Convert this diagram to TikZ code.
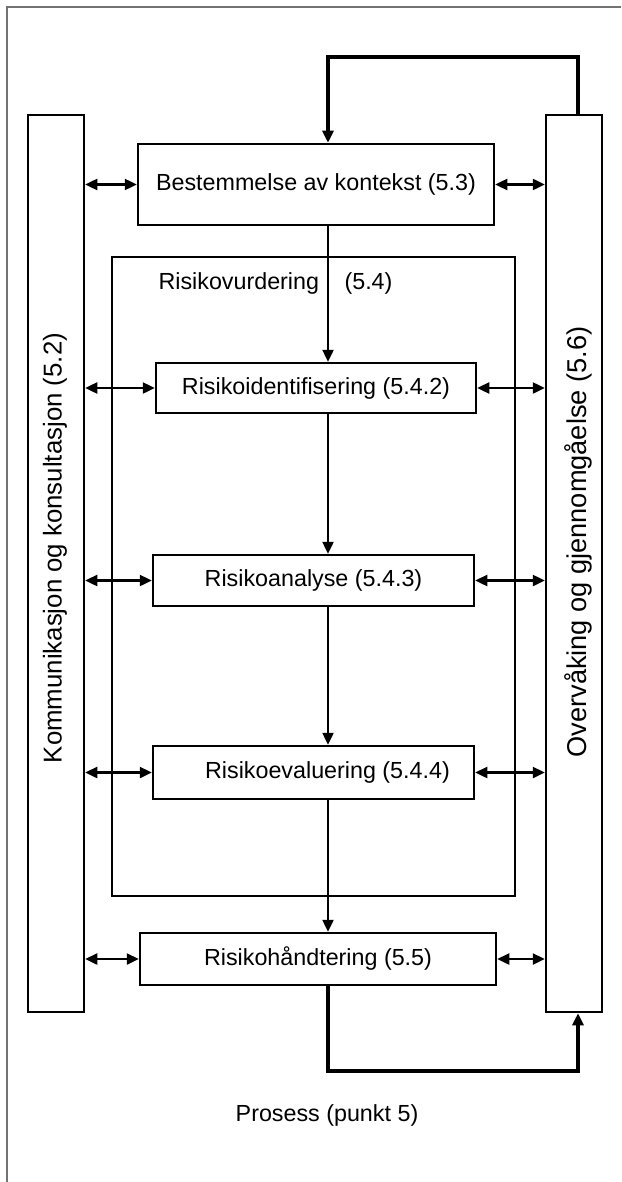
\documentclass[tikz,border=0pt]{standalone}
\usepackage{fontspec}
\setmainfont{Liberation Sans}
\usetikzlibrary{arrows.meta}
\begin{document}
\begin{tikzpicture}[x=1pt, y=-1pt,
  txt/.style={font=\fontsize{23.3}{28}\selectfont, text=black},
  stepbox/.style={draw, line width=2.5pt, inner sep=0pt, txt},
  sidebox/.style={draw, line width=2.5pt, inner sep=0pt, minimum width=56pt, minimum height=897pt},
  tip/.style={Triangle[length=12pt, width=11pt]},
  flow/.style={line width=2.4pt, -{Triangle[length=12pt, width=11pt]}},
  both/.style={line width=2.4pt, {Triangle[length=12pt, width=11pt]}-{Triangle[length=12pt, width=11pt]}},
  loop/.style={line width=3.6pt},
]
\useasboundingbox (0,0) rectangle (621,1182);
% page frame
\draw[black!55, line width=1.4pt] (7,1182) -- (7,7) -- (621,7);

% side columns
\node[sidebox] (kom) at (56,563.5) {};
\node[txt, rotate=90, font=\fontsize{25.8}{30}\selectfont] (komtxt) at (55,548) {Kommunikasjon og konsultasjon (5.2)};
\node[sidebox] (ovr) at (574,563.5) {};
\node[txt, rotate=90, font=\fontsize{27.2}{30}\selectfont] (ovrtxt) at (578,542) {Overvåking og gjennomgåelse (5.6)};

% risk assessment frame
\draw[line width=2.5pt] (112,257) rectangle (515,896);
\node[txt, anchor=west] (rv) at (155,283) {Risikovurdering};
\node[txt, anchor=west] (rvnum) at (341,283) {(5.4)};

% process steps
\node[stepbox, minimum width=356pt, minimum height=81pt] (ctx) at (316,184.5) {Bestemmelse av kontekst (5.3)};
\node[stepbox, minimum width=320pt, minimum height=50pt] (ident) at (316,388) {Risikoidentifisering (5.4.2)};
\node[stepbox, minimum width=321pt, minimum height=51pt] (anal) at (313.5,580.5) {Risikoanalyse (5.4.3)};
\node[stepbox, minimum width=321pt, minimum height=53pt] (eval) at (313.5,772.5) {\hspace*{28pt}Risikoevaluering (5.4.4)};
\node[stepbox, minimum width=356pt, minimum height=52pt] (treat) at (318,959) {Risikohåndtering (5.5)};

\node[txt] (proc) at (327,1115) {Prosess (punkt 5)};

% loop coordinates
\coordinate (topL) at (328,57);
\coordinate (topR) at (578,57);
\coordinate (botL) at (328,1071);
\coordinate (botR) at (578,1071);

% main flow down the spine
\draw[flow] (ctx.south -| topL) -- (ident.north -| topL);
\draw[flow] (ident.south -| topL) -- (anal.north -| topL);
\draw[flow] (anal.south -| topL) -- (eval.north -| topL);
\draw[flow] (eval.south -| topL) -- (treat.north -| topL);

% monitoring feedback loops
\draw[loop, -{Triangle[length=12pt, width=11pt]}] (ovr.north -| topR) -- (topR) -- (topL) -- (ctx.north -| topL);
\draw[loop, -{Triangle[length=12pt, width=11pt]}] (treat.south -| botL) -- (botL) -- (botR) -- (ovr.south -| botR);

% communication with both side columns
\foreach \n in {ctx, ident, anal, eval, treat}{
  \draw[both] (kom.east |- \n.west) -- (\n.west);
  \draw[both] (\n.east) -- (ovr.west |- \n.east);
}
\end{tikzpicture}
\end{document}
